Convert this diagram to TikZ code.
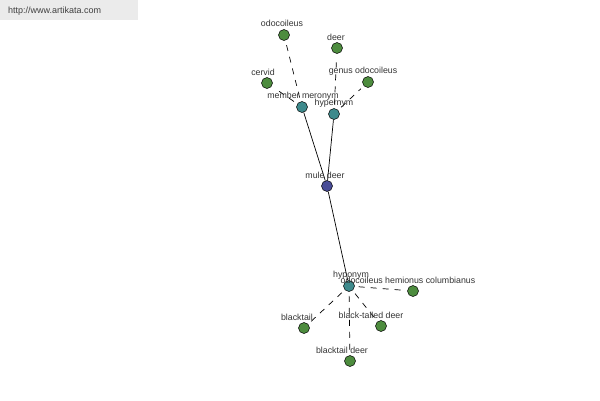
\documentclass[tikz,border=0pt]{standalone}
\usepackage{fontspec}
\setmainfont{Liberation Sans}
\definecolor{ngreen}{RGB}{77,140,62}
\definecolor{nteal}{RGB}{62,138,140}
\definecolor{nblue}{RGB}{72,76,150}
\begin{document}
\begin{tikzpicture}[x=1pt,y=-1pt,
  gnode/.style={circle,draw=black,line width=0.5pt,fill=ngreen,minimum size=11pt,inner sep=0pt},
  tnode/.style={circle,draw=black,line width=0.5pt,fill=nteal,minimum size=11pt,inner sep=0pt},
  bnode/.style={circle,draw=black,line width=0.5pt,fill=nblue,minimum size=11pt,inner sep=0pt},
  lbl/.style={font=\fontsize{8.8}{9}\selectfont,text=black!80,inner sep=0pt},
  solidedge/.style={draw=black,line width=0.7pt},
  dashedge/.style={draw=black,line width=0.7pt,dash pattern=on 6pt off 6pt,shorten <=4pt,shorten >=4pt}]
\useasboundingbox (0,0) rectangle (600,400);
\fill[black!8] (0,0) rectangle (138,20);
\node[anchor=west,font=\fontsize{9}{10}\selectfont,text=black!75,inner sep=0pt] (url) at (8,11) {http://www.artikata.com};
% nodes
\node[gnode] (odo) at (284,35) {};
\node[gnode] (deer) at (337,48) {};
\node[gnode] (cervid) at (267,83) {};
\node[gnode] (genus) at (368,82) {};
\node[tnode] (mero) at (302,107) {};
\node[tnode] (hyper) at (334,114) {};
\node[bnode] (mule) at (327,186) {};
\node[tnode] (hypo) at (349,286) {};
\node[gnode] (ohc) at (413,291) {};
\node[gnode] (btail) at (304,328) {};
\node[gnode] (btd) at (381,326) {};
\node[gnode] (btdeer) at (350,361) {};
% edges
\draw[solidedge] (mule) -- (mero);
\draw[solidedge] (mule) -- (hyper);
\draw[solidedge] (mule) -- (hypo);
\draw[dashedge] (mero) -- (odo);
\draw[dashedge] (mero) -- (cervid);
\draw[dashedge] (hyper) -- (deer);
\draw[dashedge] (hyper) -- (genus);
\draw[dashedge] (hypo) -- (ohc);
\draw[dashedge] (hypo) -- (btail);
\draw[dashedge] (hypo) -- (btd);
\draw[dashedge] (hypo) -- (btdeer);
% labels
\node[lbl] (lodo) at (282,23) {odocoileus};
\node[lbl] (ldeer) at (336,37) {deer};
\node[lbl] (lcervid) at (263,72) {cervid};
\node[lbl] (lgenus) at (363,71) {genus odocoileus};
\node[lbl] (lmero) at (303,96) {member meronym};
\node[lbl] (lhyper) at (334,103) {hypernym};
\node[lbl] (lmule) at (325,175) {mule deer};
\node[lbl] (lhypo) at (351,275) {hyponym};
\node[lbl] (lohc) at (408,280) {odocoileus hemionus columbianus};
\node[lbl] (lbtail) at (297,317) {blacktail};
\node[lbl] (lbtd) at (371,315) {black-tailed deer};
\node[lbl] (lbtdeer) at (342,350) {blacktail deer};
\end{tikzpicture}
\end{document}
